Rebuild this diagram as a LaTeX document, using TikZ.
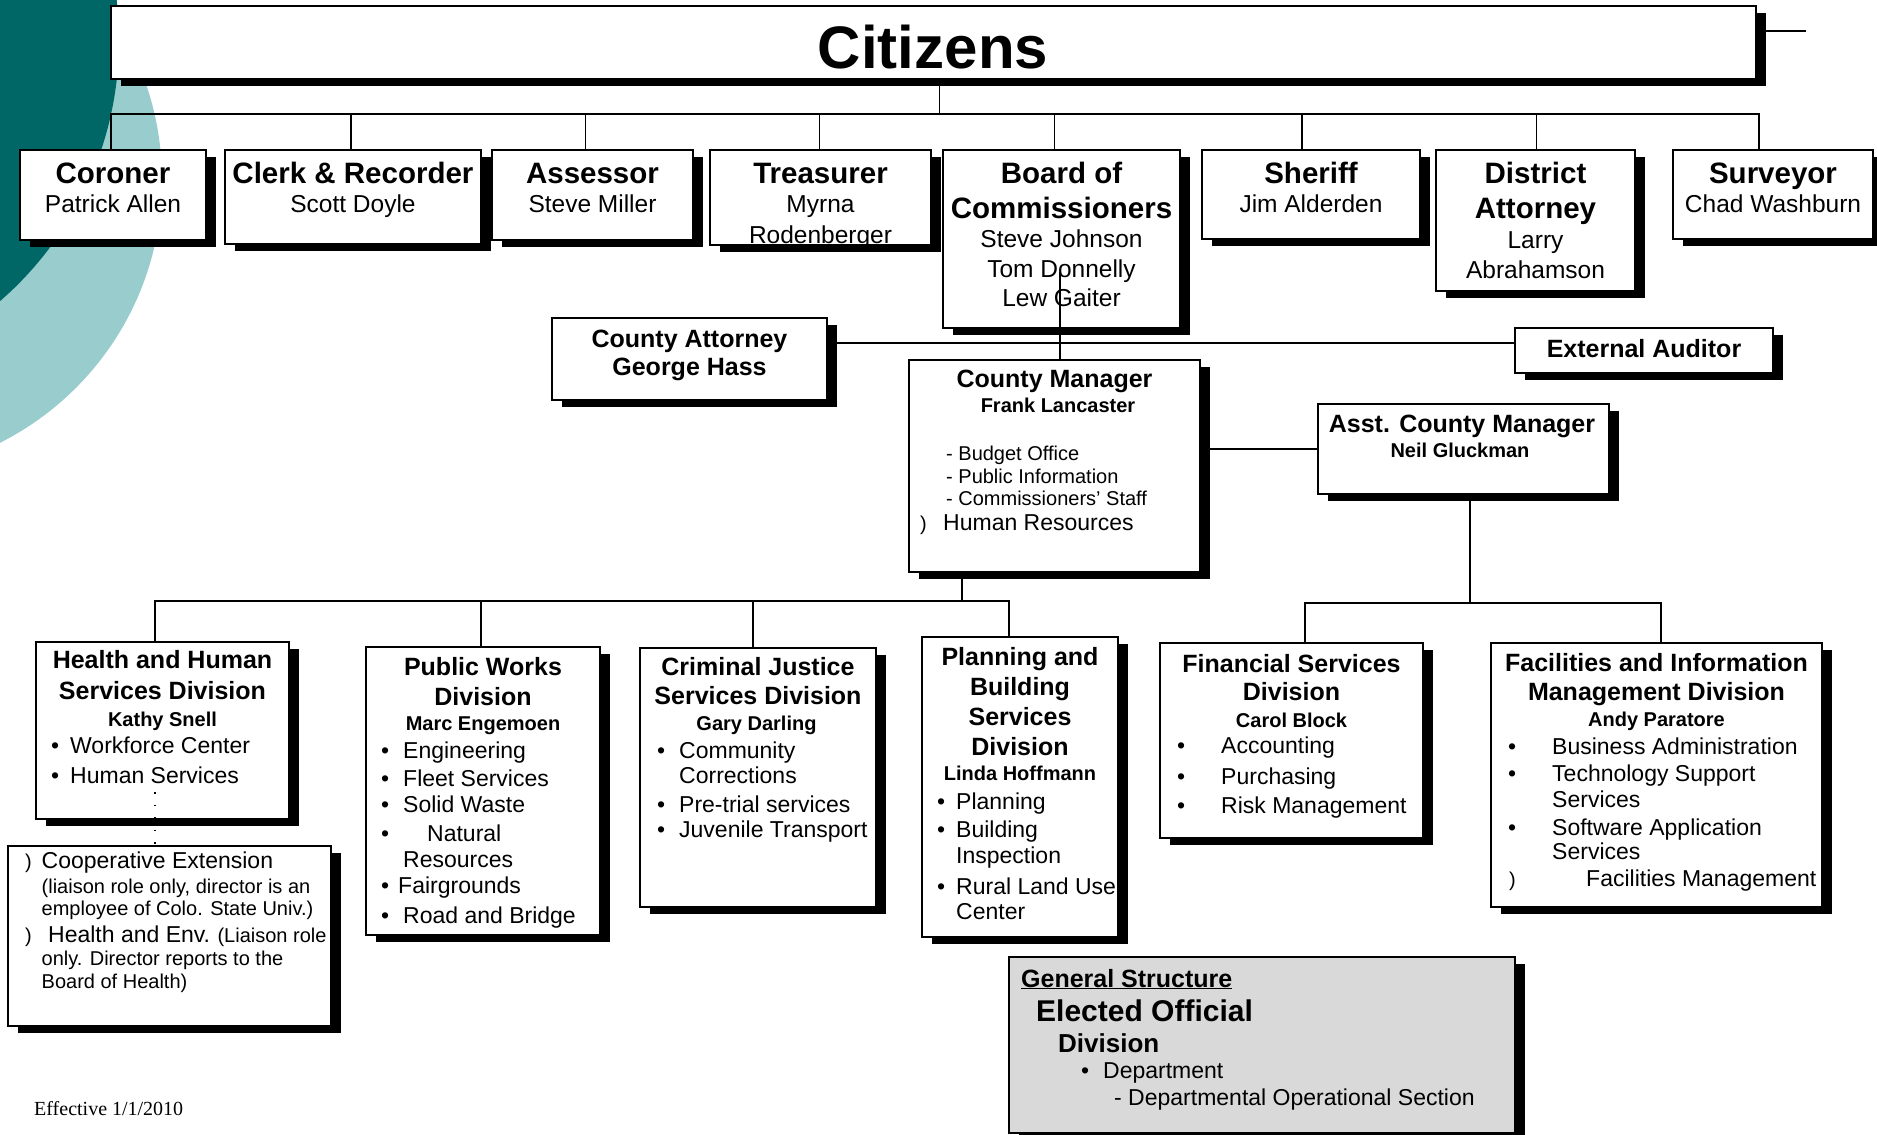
\documentclass[tikz,border=0pt]{standalone}
\usepackage{fontspec}
\setmainfont{Liberation Sans}
\newfontfamily\effserif{Liberation Serif}
\usepackage{tikz}
\usetikzlibrary{positioning,shadows}

\definecolor{tealdark}{RGB}{0,102,102}
\definecolor{teallight}{RGB}{153,204,204}
\definecolor{legendgray}{RGB}{217,217,217}

\tikzset{
  orgbox/.style={draw, line width=2.2pt, fill=white, anchor=north west,
    inner sep=0pt, outer sep=0pt,
    drop shadow={shadow xshift=9.5pt, shadow yshift=-7pt, fill=black, opacity=1}},
  elected/.style={font=\fontsize{29.5}{35}\selectfont\bfseries, anchor=base, inner sep=0pt},
  person/.style={font=\fontsize{24.5}{29}\selectfont, anchor=base, inner sep=0pt},
  office/.style={font=\fontsize{25}{30}\selectfont\bfseries, anchor=base, inner sep=0pt},
  head/.style={font=\fontsize{20}{24}\selectfont\bfseries, anchor=base, inner sep=0pt},
  item/.style={font=\fontsize{23}{28}\selectfont, anchor=base west, inner sep=0pt},
  note/.style={font=\fontsize{20}{24}\selectfont, anchor=base west, inner sep=0pt},
  link/.style={line width=1.4pt},
  trunk/.style={line width=2.8pt},
}

\begin{document}
\begin{tikzpicture}[x=1pt, y=-1pt]
    \useasboundingbox (0,0) rectangle (1877,1135);

    % background swooshes
    \begin{scope}
    \clip (0,0) rectangle (1877,1135);
    \fill[teallight] (-132,180) circle[radius=294pt];
    \fill[tealdark] (-227,40) circle[radius=346pt];
    \end{scope}

    % elected officials
    \node[orgbox, minimum width=1645pt, minimum height=73pt] (cit) at (111,6) {};
    \node[font=\fontsize{60}{70}\selectfont\bfseries, anchor=base, inner sep=0pt] (cit-t) at (933,68) {Citizens};

    \node[orgbox, minimum width=186pt, minimum height=90pt] (cor) at (20,150) {};
    \node[orgbox, minimum width=256pt, minimum height=94pt] (clk) at (225,150) {};
    \node[orgbox, minimum width=201pt, minimum height=90pt] (ass) at (492,150) {};
    \node[orgbox, minimum width=221pt, minimum height=95pt] (tre) at (710,150) {};
    \node[orgbox, minimum width=237pt, minimum height=178pt] (boc) at (943,150) {};
    \node[orgbox, minimum width=218pt, minimum height=89pt] (shf) at (1202,150) {};
    \node[orgbox, minimum width=199pt, minimum height=141pt] (da) at (1436,150) {};
    \node[orgbox, minimum width=200pt, minimum height=89pt] (sur) at (1673,150) {};

    \foreach \b/\t/\n in {cor/Coroner/Patrick Allen, clk/Clerk \& Recorder/Scott Doyle,
        ass/Assessor/Steve Miller, shf/Sheriff/Jim Alderden, sur/Surveyor/Chad Washburn} {
      \node[elected] (\b-t) at ([yshift=-33pt]\b.north) {\t};
      \node[person] (\b-n) at ([yshift=-62pt]\b.north) {\n};
    }
    \node[elected] (tre-t) at ([yshift=-33pt]tre.north) {Treasurer};
    \node[person] (tre-n) at ([yshift=-62pt]tre.north) {Myrna};
    \begin{scope}
    \clip (tre.north west) rectangle ([yshift=1.5pt]tre.south east);
    \node[person] (tre-n2) at ([yshift=-93pt]tre.north) {Rodenberger};
    \end{scope}

    \node[elected] (boc-t1) at ([yshift=-33pt]boc.north) {Board of};
    \node[elected] (boc-t2) at ([yshift=-68pt]boc.north) {Commissioners};
    \foreach \dy/\n [count=\i] in {97/Steve Johnson, 127/Tom Donnelly, 156/Lew Gaiter}
      \node[person] (boc-n\i) at ([yshift=-\dy pt]boc.north) {\n};

    \node[elected] (da-t1) at ([yshift=-33pt]da.north) {District};
    \node[elected] (da-t2) at ([yshift=-68pt]da.north) {Attorney};
    \node[person] (da-n1) at ([yshift=-98pt]da.north) {Larry};
    \node[person] (da-n2) at ([yshift=-128pt]da.north) {Abrahamson};

    % appointed staff
    \node[orgbox, minimum width=275pt, minimum height=82pt] (ca) at (552,318) {};
    \node[office] (ca-t) at ([yshift=-29pt]ca.north) {County Attorney};
    \node[office] (ca-n) at ([yshift=-57pt]ca.north) {George Hass};

    \node[orgbox, minimum width=258pt, minimum height=45pt] (ea) at (1515,328) {};
    \node[office] (ea-t) at ([yshift=-29pt]ea.north) {External Auditor};

    \node[orgbox, minimum width=291pt, minimum height=212pt] (cm) at (909,360) {};
    \node[office] (cm-t) at ([yshift=-27pt]cm.north) {County Manager};
    \node[head] (cm-n) at ([xshift=3.5pt,yshift=-52pt]cm.north) {Frank Lancaster};
    \foreach \y/\t [count=\i] in {460/- Budget Office, 483/- Public Information, 505/- Commissioners’ Staff}
      \node[note] (cm-s\i) at (946,\y) {\t};
    \node[note] (cm-p) at (920,530) {)};
    \node[item] (cm-hr) at (943,530) {Human Resources};

    \node[orgbox, minimum width=291pt, minimum height=90pt] (acm) at (1318,404) {};
    \node[office] (acm-t) at ([xshift=-1.5pt,yshift=-28pt]acm.north) {Asst. County Manager};
    \node[head] (acm-n) at ([xshift=-3.5pt,yshift=-53pt]acm.north) {Neil Gluckman};

    % divisions
    \node[orgbox, minimum width=253pt, minimum height=177pt] (hhs) at (36,642) {};
    \node[office] (hhs-t1) at ([yshift=-26pt]hhs.north) {Health and Human};
    \node[office] (hhs-t2) at ([yshift=-57pt]hhs.north) {Services Division};
    \node[head] (hhs-n) at ([yshift=-84pt]hhs.north) {Kathy Snell};
    \foreach \y/\t [count=\i] in {753/Workforce Center, 783/Human Services} {
      \node[item] (hhs-b\i) at (51,\y) {•};
      \node[item] (hhs-i\i) at (70,\y) {\t};
    }

    \node[orgbox, minimum width=323pt, minimum height=180pt] (coop) at (8,846) {};
    \node[note] (coop-p1) at (25,868) {)};
    \node[item] (coop-i1) at (41.5,868) {Cooperative Extension};
    \node[note] (coop-s1) at (41.5,893) {(liaison role only, director is an};
    \node[note] (coop-s2) at (41.5,915) {employee of Colo. State Univ.)};
    \node[note] (coop-p2) at (25,942) {)};
    \node[note] (coop-i2) at (48,942) {{\fontsize{23}{28}\selectfont Health and Env.} (Liaison role};
    \node[note] (coop-s3) at (41.5,965) {only. Director reports to the};
    \node[note] (coop-s4) at (41.5,988) {Board of Health)};

    \node[orgbox, minimum width=234pt, minimum height=288pt] (pw) at (366,647) {};
    \node[office] (pw-t1) at ([yshift=-28pt]pw.north) {Public Works};
    \node[office] (pw-t2) at ([yshift=-58pt]pw.north) {Division};
    \node[head] (pw-n) at ([yshift=-83pt]pw.north) {Marc Engemoen};
    \foreach \y in {758,786,812,841,893,923}
      \node[item] (pw-b\y) at (381,\y) {•};
    \foreach \x/\y/\t in {403/758/Engineering, 403/786/Fleet Services, 403/812/Solid Waste,
        427/841/Natural, 403/867/Resources, 398/893/Fairgrounds, 403/923/Road and Bridge}
      \node[item] (pw-i\y) at (\x,\y) {\t};

    \node[orgbox, minimum width=236pt, minimum height=259pt] (cjs) at (640,648) {};
    \node[office] (cjs-t1) at ([yshift=-27pt]cjs.north) {Criminal Justice};
    \node[office] (cjs-t2) at ([yshift=-56pt]cjs.north) {Services Division};
    \node[head] (cjs-n) at ([xshift=-1.5pt,yshift=-82pt]cjs.north) {Gary Darling};
    \foreach \y in {758,812,837}
      \node[item] (cjs-b\y) at (657,\y) {•};
    \foreach \y/\t in {758/Community, 783/Corrections, 812/Pre-trial services, 837/Juvenile Transport}
      \node[item] (cjs-i\y) at (679,\y) {\t};

    \node[orgbox, minimum width=196pt, minimum height=300pt] (pbs) at (922,637) {};
    \foreach \dy/\t [count=\i] in {28/Planning and, 58/Building, 88/Services, 118/Division}
      \node[office] (pbs-t\i) at ([yshift=-\dy pt]pbs.north) {\t};
    \node[head] (pbs-n) at ([yshift=-143pt]pbs.north) {Linda Hoffmann};
    \foreach \y in {809,837,894}
      \node[item] (pbs-b\y) at (937,\y) {•};
    \foreach \y/\t in {809/Planning, 837/Building, 863/Inspection, 894/Rural Land Use, 919/Center}
      \node[item] (pbs-i\y) at (956,\y) {\t};

    \node[orgbox, minimum width=263pt, minimum height=195pt] (fin) at (1160,643) {};
    \node[office] (fin-t1) at ([yshift=-29pt]fin.north) {Financial Services};
    \node[office] (fin-t2) at ([yshift=-57pt]fin.north) {Division};
    \node[head] (fin-n) at ([yshift=-84pt]fin.north) {Carol Block};
    \foreach \y/\t in {753/Accounting, 784/Purchasing, 813/Risk Management} {
      \node[item] (fin-b\y) at (1177,\y) {•};
      \node[item] (fin-i\y) at (1221,\y) {\t};
    }

    \node[orgbox, minimum width=331pt, minimum height=264pt] (fac) at (1491,643) {};
    \node[office] (fac-t1) at ([yshift=-28pt]fac.north) {Facilities and Information};
    \node[office] (fac-t2) at ([yshift=-57pt]fac.north) {Management Division};
    \node[head] (fac-n) at ([yshift=-83pt]fac.north) {Andy Paratore};
    \foreach \y in {754,781,835}
      \node[item] (fac-b\y) at (1508,\y) {•};
    \foreach \y/\t in {754/Business Administration, 781/Technology Support, 807/Services,
        835/Software Application, 859/Services}
      \node[item] (fac-i\y) at (1552,\y) {\t};
    \node[note] (fac-p) at (1509,886) {)};
    \node[item] (fac-i886) at (1586,886) {Facilities Management};

    % legend
    \node[orgbox, fill=legendgray, minimum width=506pt, minimum height=176pt] (lg) at (1009,957) {};
    \node[office, anchor=base west] (lg-t) at (1021,987) {\underline{General Structure}};
    \node[font=\fontsize{30}{36}\selectfont\bfseries, anchor=base west, inner sep=0pt] (lg-e) at (1036,1021) {Elected Official};
    \node[font=\fontsize{26}{31}\selectfont\bfseries, anchor=base west, inner sep=0pt] (lg-d) at (1058,1052) {Division};
    \node[item] (lg-b) at (1081,1078) {•};
    \node[item] (lg-p) at (1103,1078) {Department};
    \node[item] (lg-s) at (1114,1105) {- Departmental Operational Section};

    \node[font=\effserif\fontsize{20}{24}\selectfont, anchor=base west, inner sep=0pt] (eff) at (34,1115) {Effective 1/1/2010};

    % connectors
    \coordinate (stub) at (1806,31);
    \draw[trunk] ([yshift=11.5pt]cit.east) -- (stub);
    \draw[link] ([xshift=-2pt]cor.north) -- ++(0,-36) -| ([xshift=-14pt]sur.north);
    \draw[link] ([xshift=6pt]cit.south) -- ++(0,35);
    \foreach \b/\dx in {clk/-2, ass/-7, tre/-1, boc/-7, shf/-9, da/1}
      \draw[link] ([xshift=\dx pt]\b.north) -- ++(0,-36);

    \draw[line width=1.8pt] ([xshift=5.5pt]cm.north) -- ++(0,-88);
    \draw[link] ([yshift=7.5pt]ea.west) -- ++(-688,0);
    \draw[link] (acm.west) -- ++(-118,0);

    \draw[trunk] ([xshift=6.5pt]acm.south) -- ++(0,109);
    \draw[trunk] ([xshift=13.5pt]fin.north) -- ++(0,-40) -| ([xshift=4.5pt]fac.north);

    \draw[line width=2.5pt] ([xshift=-92.5pt]cm.south) -- ++(0,29);
    \draw[trunk] ([xshift=-7.5pt]hhs.north) -- ++(0,-41) -| ([xshift=-11pt]pbs.north);
    \draw[trunk] ([xshift=-2pt]pw.north) -- ++(0,-46);
    \draw[trunk] ([xshift=-5pt]cjs.north) -- ++(0,-47);
    \draw[line width=2pt, dash pattern=on 1.5pt off 11pt] ([xshift=-7.5pt,yshift=27pt]hhs.south) -- ([xshift=-14.5pt]coop.north);

\end{tikzpicture}
\end{document}
